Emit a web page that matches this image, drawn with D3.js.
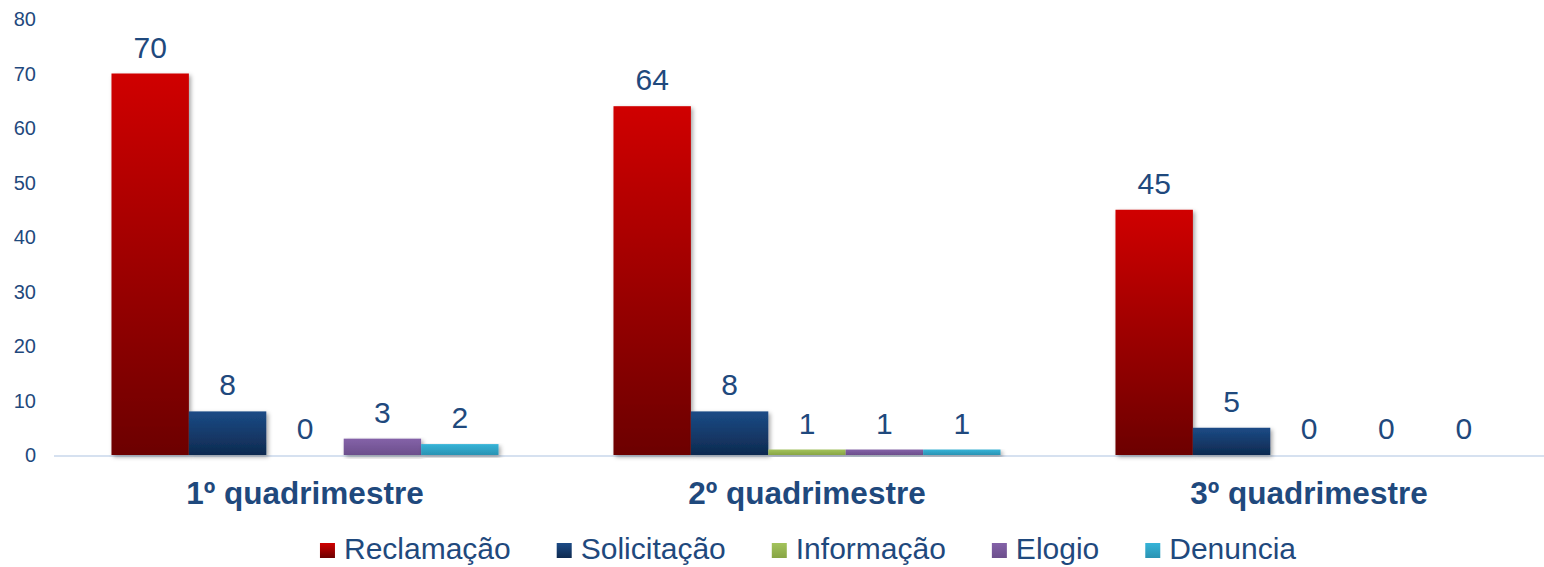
<!DOCTYPE html>
<html>
<head>
<meta charset="utf-8">
<script src="https://cdn.jsdelivr.net/npm/d3@7"></script>
<style>
  body { margin: 0; background: #fff; }
  text { font-family: "Liberation Sans", Arial, sans-serif; }
</style>
</head>
<body>
<div id="chart"></div>
<script>
// data
const quarters = ["1º quadrimestre", "2º quadrimestre", "3º quadrimestre"];
const types = ["Reclamação", "Solicitação", "Informação", "Elogio", "Denuncia"];
const reclamacao = [70, 64, 45];
const solicitacao = [8, 8, 5];
const informacao = [0, 1, 0];
const elogio = [3, 1, 0];
const denuncia = [2, 1, 0];
const yTicks = [0, 10, 20, 30, 40, 50, 60, 70, 80];

const series = [reclamacao, solicitacao, informacao, elogio, denuncia];
// top / bottom colours of each gradient
const colors = [
    ["#d00000", "#6c0000"],
    ["#1c4b86", "#0e2a50"],
    ["#a3c35c", "#87a544"],
    ["#8462a8", "#6c4f8c"],
    ["#36b4d8", "#2a93b3"]
];
const txt = "#1f497d";

const W = 1544, H = 567;
const svg = d3.select("#chart").append("svg")
    .attr("width", W).attr("height", H);

const defs = svg.append("defs");
colors.forEach((c, i) => {
    let g = defs.append("linearGradient")
        .attr("id", "grad" + i)
        .attr("x1", 0).attr("y1", 0).attr("x2", 0).attr("y2", 1);
    g.append("stop").attr("offset", "0%").attr("stop-color", c[0]);
    g.append("stop").attr("offset", "100%").attr("stop-color", c[1]);
});
defs.append("filter").attr("id", "shadow")
    .attr("x", "-10%").attr("y", "-10%").attr("width", "130%").attr("height", "130%")
    .append("feDropShadow")
    .attr("dx", 2).attr("dy", 2).attr("stdDeviation", 2)
    .attr("flood-color", "#000").attr("flood-opacity", 0.35);

const y = d3.scaleLinear().domain([0, 80]).range([455, 19]);
const x0 = d3.scaleBand().domain(quarters).range([54, 1560])
    .paddingInner(0.229).paddingOuter(0.1145);
const x1 = d3.scaleBand().domain(types).range([0, x0.bandwidth()]);

// y axis labels only
svg.append("g").selectAll("text")
    .data(yTicks)
    .enter()
    .append("text")
    .attr("x", 36)
    .attr("y", d => y(d))
    .attr("dy", "0.35em")
    .attr("text-anchor", "end")
    .attr("font-size", 20)
    .attr("fill", txt)
    .text(d => d);

// baseline
svg.append("line")
    .attr("x1", 54).attr("x2", W)
    .attr("y1", y(0) + 1).attr("y2", y(0) + 1)
    .attr("stroke", "#d6e1f0").attr("stroke-width", 2);

let rows = [];
quarters.forEach((q, qi) => {
    types.forEach((t, ti) => {
        rows.push({ q: q, t: t, i: ti, v: series[ti][qi] });
    });
});

svg.append("g").selectAll("rect")
    .data(rows.filter(d => d.v > 0))
    .enter()
    .append("rect")
    .attr("x", d => x0(d.q) + x1(d.t))
    .attr("y", d => y(d.v))
    .attr("width", x1.bandwidth())
    .attr("height", d => y(0) - y(d.v))
    .attr("fill", d => "url(#grad" + d.i + ")")
    .attr("filter", "url(#shadow)");

svg.append("g").selectAll("text")
    .data(rows)
    .enter()
    .append("text")
    .attr("x", d => x0(d.q) + x1(d.t) + x1.bandwidth() / 2)
    .attr("y", d => y(d.v) - 16)
    .attr("text-anchor", "middle")
    .attr("font-size", 30)
    .attr("fill", txt)
    .text(d => d.v);

// category labels
svg.append("g").selectAll("text")
    .data(quarters)
    .enter()
    .append("text")
    .attr("x", d => x0(d) + x0.bandwidth() / 2)
    .attr("y", 504)
    .attr("text-anchor", "middle")
    .attr("font-size", 31.5)
    .attr("font-weight", "bold")
    .attr("fill", txt)
    .text(d => d);

// legend
const legend = svg.append("g");
let items = legend.selectAll("g")
    .data(types)
    .enter()
    .append("g");
items.append("rect")
    .attr("width", 15).attr("height", 15)
    .attr("y", 543)
    .attr("fill", (d, i) => "url(#grad" + i + ")");
items.append("text")
    .attr("x", 24)
    .attr("y", 559)
    .attr("font-size", 30)
    .attr("fill", txt)
    .text(d => d);

let pos = 0;
items.each(function() {
    let w = 24 + d3.select(this).select("text").node().getComputedTextLength();
    d3.select(this).attr("transform", "translate(" + pos + ",0)");
    pos += w + 46;
});
pos -= 46;
legend.attr("transform", "translate(" + (808 - pos / 2) + ",0)");
</script>
</body>
</html>
